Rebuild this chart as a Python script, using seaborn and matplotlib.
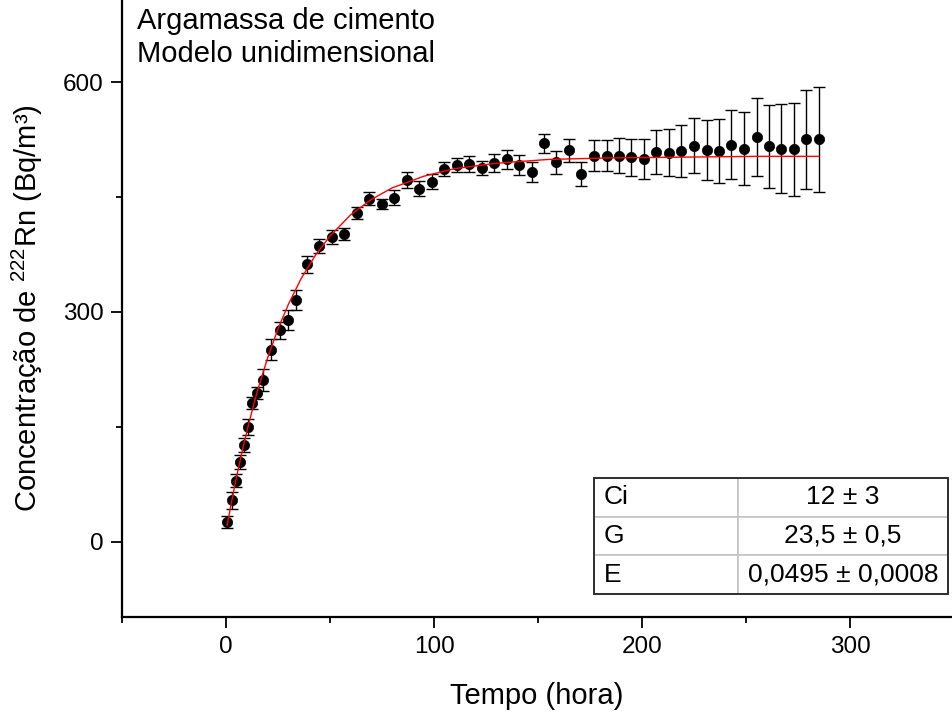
import numpy as np
import pandas as pd
import matplotlib
matplotlib.use("Agg")
import matplotlib.pyplot as plt
import seaborn as sns
from matplotlib.ticker import MultipleLocator
from matplotlib.patches import Rectangle

# ---- data ----
tempo = [0.6, 2.7, 4.8, 6.7, 8.7, 10.6, 12.6, 14.9, 17.6, 21.6, 25.8, 29.8, 33.8,
         38.8, 44.9, 50.8, 56.7, 62.8, 68.8, 74.8, 80.8, 86.9, 92.9, 98.9, 105.0,
         110.9, 116.8, 122.9, 128.8, 134.9, 140.9, 147.0, 152.9,
         158.7, 164.9, 170.8, 176.9, 183.0, 188.9, 194.9, 201.0, 206.9, 213.0,
         218.9, 225.0, 231.1, 237.0, 242.9, 249.0, 255.1, 261.1, 267.0, 273.1,
         279.0, 285.1]
concentracao = [26, 54, 80, 104, 126, 150, 181, 194, 211, 251, 276, 289, 315,
                362, 386, 398, 402, 429, 448, 441, 449, 472, 461, 470, 486,
                492, 493, 488, 494, 499, 492, 483, 520,
                495, 511, 480, 504, 504, 504, 502, 500, 509, 508,
                510, 517, 511, 510, 518, 513, 528, 516, 513, 512,
                525, 525]
erro = [8, 11, 9, 9, 9, 10, 8, 8, 14, 14, 11, 13, 13,
        11, 9, 9, 8, 8, 9, 7, 10, 10, 10, 10, 9,
        9, 10, 9, 12, 12, 13, 13, 12,
        15, 15, 16, 20, 20, 23, 24, 26, 29, 31,
        34, 36, 39, 42, 45, 48, 51, 54, 58, 61,
        64, 69]

# fitted curve
ajuste_t = [0.5, 3, 5, 8, 11, 15, 20, 25, 30, 36, 43, 50, 60, 70, 80, 95, 110,
            130, 155, 185, 220, 255, 285]
ajuste_c = [21, 57, 84, 121, 155, 196, 240, 278, 310, 343, 374, 399, 427, 447,
            462, 477, 487, 494, 499, 501, 502, 503, 503]

tabela_nomes = ["Ci", "G", "E"]
tabela_valores = ["12 ± 3", "23,5 ± 0,5", "0,0495 ± 0,0008"]

xticks = [0, 100, 200, 300]
yticks = [0, 300, 600]

# ---- style ----
sns.set_style("ticks")
plt.rcParams["font.family"] = ["Liberation Sans", "DejaVu Sans"]
plt.rcParams["mathtext.fontset"] = "custom"
plt.rcParams["mathtext.rm"] = "Liberation Sans"
plt.rcParams["mathtext.it"] = "Liberation Sans:italic"
plt.rcParams["mathtext.bf"] = "Liberation Sans:bold"
plt.rcParams["text.color"] = "black"
plt.rcParams["axes.labelcolor"] = "black"
plt.rcParams["xtick.color"] = "black"
plt.rcParams["ytick.color"] = "black"

fig = plt.figure(figsize=(9.52, 7.14), dpi=100)
ax = fig.add_axes([122 / 952, 1 - 617 / 714, 830 / 952, 617 / 714])

df = pd.DataFrame({"t": tempo, "c": concentracao, "e": erro})
fit = pd.DataFrame({"t": ajuste_t, "c": ajuste_c})

ax.errorbar(df["t"], df["c"], yerr=df["e"], fmt="none", ecolor="black",
            elinewidth=1.0, capsize=4.5, capthick=1.0, zorder=2)
sns.scatterplot(data=df, x="t", y="c", color="black", s=55, edgecolor="black",
                linewidth=0.5, ax=ax, zorder=3, legend=False)
sns.lineplot(data=fit, x="t", y="c", color="red", lw=1.0, ax=ax, zorder=4,
             legend=False)

ax.set_xlim(-50, 349)
ax.set_ylim(-98, 707)
ax.set_xticks(xticks)
ax.set_yticks(yticks)
ax.xaxis.set_minor_locator(MultipleLocator(50))
ax.yaxis.set_minor_locator(MultipleLocator(150))

for s in ["top", "right"]:
    ax.spines[s].set_visible(False)
for s in ["left", "bottom"]:
    ax.spines[s].set_linewidth(1.6)
    ax.spines[s].set_color("black")

ax.tick_params(axis="both", which="major", length=8, width=1.3, labelsize=17.5,
               colors="black", direction="out")
ax.tick_params(axis="both", which="minor", length=4, width=1.3, direction="out")
ax.tick_params(axis="x", which="major", pad=6)
ax.tick_params(axis="y", which="major", pad=5)

ax.set_xlabel("Tempo (hora)", fontsize=21, color="black")
ax.set_ylabel("Concentração de $^{222}$Rn (Bq/m³)", fontsize=21, color="black")
ax.xaxis.set_label_coords(0.5, -0.105)
ax.yaxis.set_label_coords(-0.093, 0.5)

ax.text(0.018, 0.988, "Argamassa de cimento\nModelo unidimensional",
        transform=ax.transAxes, ha="left", va="top", fontsize=21,
        linespacing=1.2, color="black")

# ---- parameter table ----
x0 = (594 - 122) / 830
w = (948 - 594) / 830
y0 = (617 - 594) / 617
h = (594 - 478) / 617
cw = (738 - 594) / (948 - 594)
cells = [[n, v] for n, v in zip(tabela_nomes, tabela_valores)]
tab = ax.table(cellText=cells, colWidths=[cw * w, (1 - cw) * w],
               bbox=[x0, y0, w, h], cellLoc="center", zorder=5)
tab.auto_set_font_size(False)
tab.set_fontsize(19)
for (r, c), cell in tab.get_celld().items():
    cell.set_edgecolor("#c4c4c4")
    cell.set_linewidth(1.2)
    cell.set_facecolor("white")
    cell.get_text().set_color("black")
    if c == 0:
        cell._loc = "left"
        cell.PAD = 0.07
        cell.get_text().set_ha("left")
ax.add_patch(Rectangle((x0, y0), w, h, transform=ax.transAxes, fill=False,
                       edgecolor="#222222", lw=1.3, zorder=6, clip_on=False))

fig.savefig("out.png", dpi=100, facecolor="white")
